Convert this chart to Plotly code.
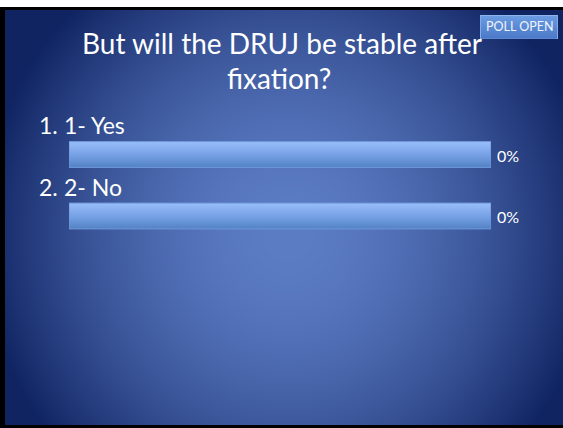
import base64
import struct
import zlib

import numpy as np
import plotly.graph_objects as go

# ---- data ----
title_lines = ["But will the DRUJ be stable after", "fixation?"]
categories = ["1- Yes", "2- No"]
track_values = [100, 100]      # full-width poll track drawn for each answer
percent_values = [0, 0]        # responses (%)
badge_text = "POLL OPEN"

W, H = 563, 428
FONT = "Lato, 'Noto Sans', sans-serif"


# ---- background slide (gradient + frame + badge) as PNG ----
def make_png(arr):
    h, w, _ = arr.shape
    raw = b"".join(b"\x00" + arr[r].tobytes() for r in range(h))

    def chunk(tag, data):
        c = struct.pack(">I", len(data)) + tag + data
        return c + struct.pack(">I", zlib.crc32(tag + data) & 0xFFFFFFFF)

    return (b"\x89PNG\r\n\x1a\n"
            + chunk(b"IHDR", struct.pack(">IIBBBBB", w, h, 8, 2, 0, 0, 0))
            + chunk(b"IDAT", zlib.compress(raw, 9))
            + chunk(b"IEND", b""))


yy, xx = np.mgrid[0:H, 0:W].astype(float)
cx, cy = 288.0, 235.0
d = np.sqrt(((xx - cx) / 308.0) ** 2 + ((yy - cy) / 317.0) ** 2)
t = np.clip(d, 0, 1) ** 1.8
c_in = np.array([92, 124, 196], float)
c_out = np.array([16, 36, 98], float)
img = c_in[None, None, :] * (1 - t[..., None]) + c_out[None, None, :] * t[..., None]

# frame
img[0:7, :, :] = 255
img[7:10, :, :] = 0
img[:, 0:5, :] = 0
img[425:, :, :] = 0
img[0:7, 0:5, :] = 255

# badge box with vertical gradient
bx0, bx1, by0, by1 = 480, 558, 15, 39
for r in range(by0, by1):
    f = (r - by0) / (by1 - by0 - 1)
    col = np.array([108, 156, 226]) * (1 - f) + np.array([76, 122, 200]) * f
    img[r, bx0:bx1, :] = col
img[by0, bx0:bx1, :] = [140, 180, 238]
img[by1 - 1, bx0:bx1, :] = [90, 134, 210]
img[by0:by1, bx0, :] = [130, 170, 235]
img[by0:by1, bx1 - 1, :] = [130, 170, 235]

img = np.clip(img, 0, 255).astype(np.uint8)
bg_src = "data:image/png;base64," + base64.b64encode(make_png(img)).decode()

# ---- figure ----
n = len(categories)
pos = [n - 1 - i for i in range(n)]
half = 0.21

fig = go.Figure()
for i in range(n):
    v = track_values[i]
    p = pos[i]
    fig.add_trace(go.Scatter(
        x=[0, v, v, 0, 0],
        y=[p - half, p - half, p + half, p + half, p - half],
        mode="lines",
        fill="toself",
        fillgradient=dict(type="vertical",
                          colorscale=[[0, "#5282c4"], [0.5, "#78a2e6"], [1, "#98bdfa"]]),
        line=dict(color="#6f98da", width=1),
        hoverinfo="skip",
        showlegend=False,
    ))

annotations = []
for i in range(n):
    p = pos[i]
    annotations.append(dict(x=track_values[i], y=p, xref="x", yref="y",
                            text=f"{percent_values[i]}%", showarrow=False,
                            xanchor="left", yanchor="middle", xshift=4, yshift=-1,
                            font=dict(family=FONT, size=16, color="white")))
    annotations.append(dict(x=37 / W, y=p, xref="paper", yref="y",
                            text=f"{i + 1}.", showarrow=False,
                            xanchor="left", yanchor="middle", yshift=29,
                            font=dict(family=FONT, size=23, color="white")))
    annotations.append(dict(x=62 / W, y=p, xref="paper", yref="y",
                            text=categories[i], showarrow=False,
                            xanchor="left", yanchor="middle", yshift=29,
                            font=dict(family=FONT, size=23, color="white")))

annotations.append(dict(x=282 / W, y=1 - 43 / H, xref="paper", yref="paper",
                        text=title_lines[0], showarrow=False,
                        xanchor="center", yanchor="middle",
                        font=dict(family=FONT, size=28, color="white")))
annotations.append(dict(x=279 / W, y=1 - 78 / H, xref="paper", yref="paper",
                        text=title_lines[1], showarrow=False,
                        xanchor="center", yanchor="middle",
                        font=dict(family=FONT, size=28, color="white")))
annotations.append(dict(x=519 / W, y=1 - 27 / H, xref="paper", yref="paper",
                        text=badge_text, showarrow=False,
                        xanchor="center", yanchor="middle",
                        font=dict(family=FONT, size=12.5, color="#eef4ff")))

y_top = 123.75
y_bot = 246.75
fig.update_layout(
    width=W, height=H, autosize=False,
    margin=dict(l=0, r=0, t=0, b=0),
    paper_bgcolor="white", plot_bgcolor="rgba(0,0,0,0)",
    xaxis=dict(domain=[69 / W, 491 / W], range=[0, 100], visible=False, fixedrange=True),
    yaxis=dict(domain=[1 - y_bot / H, 1 - y_top / H], range=[-0.5, n - 0.5],
               visible=False, fixedrange=True),
    images=[dict(source=bg_src, xref="paper", yref="paper", x=0, y=1,
                 sizex=1, sizey=1, xanchor="left", yanchor="top",
                 sizing="stretch", layer="below")],
    annotations=annotations,
    showlegend=False,
)

fig.write_html("out.html", config={"displayModeBar": False},
               post_script="document.body.style.margin='0';document.body.style.overflow='hidden';")
